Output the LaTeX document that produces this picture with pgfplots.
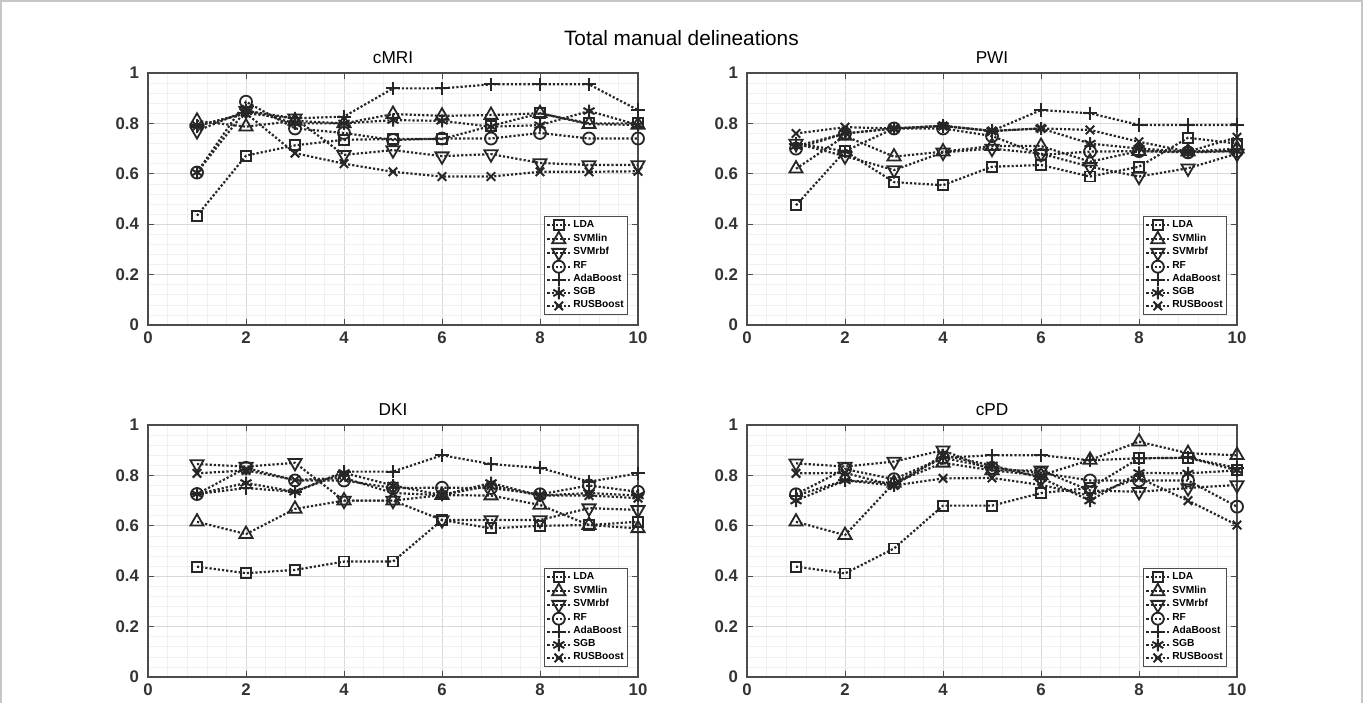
\documentclass[border=0pt]{standalone}
\usepackage{fontspec}
\setmainfont{Liberation Sans}
\usepackage{pgfplots}
\usepackage{pgfplotstable}
\pgfplotsset{compat=1.18}

\pgfplotstableread{
x LDA SVMlin SVMrbf RF Ada SGB RUS
1 0.434 0.81 0.77 0.605 0.79 0.605 0.79
2 0.672 0.787 0.85 0.886 0.84 0.853 0.84
3 0.713 0.81 0.82 0.78 0.82 0.80 0.682
4 0.735 0.80 0.675 0.762 0.827 0.80 0.64
5 0.738 0.837 0.694 0.734 0.939 0.813 0.608
6 0.738 0.83 0.67 0.74 0.939 0.81 0.589
7 0.79 0.833 0.678 0.74 0.955 0.787 0.589
8 0.84 0.84 0.643 0.762 0.955 0.793 0.608
9 0.80 0.797 0.635 0.74 0.955 0.849 0.608
10 0.80 0.794 0.635 0.74 0.853 0.794 0.61
}\tcMRI

\pgfplotstableread{
x LDA SVMlin SVMrbf RF Ada SGB RUS
1 0.475 0.62 0.72 0.70 0.72 0.71 0.76
2 0.69 0.75 0.67 0.76 0.69 0.76 0.785
3 0.567 0.668 0.615 0.78 0.78 0.78 0.78
4 0.555 0.688 0.685 0.78 0.79 0.79 0.79
5 0.628 0.71 0.70 0.75 0.77 0.77 0.77
6 0.635 0.71 0.68 0.675 0.853 0.78 0.78
7 0.589 0.648 0.628 0.688 0.84 0.72 0.774
8 0.628 0.69 0.589 0.69 0.794 0.70 0.727
9 0.743 0.688 0.622 0.685 0.794 0.688 0.688
10 0.72 0.70 0.68 0.69 0.794 0.69 0.745
}\tPWI

\pgfplotstableread{
x LDA SVMlin SVMrbf RF Ada SGB RUS
1 0.438 0.616 0.845 0.726 0.726 0.726 0.808
2 0.412 0.567 0.835 0.83 0.75 0.77 0.82
3 0.425 0.667 0.85 0.78 0.735 0.735 0.782
4 0.458 0.70 0.70 0.78 0.815 0.81 0.79
5 0.458 0.70 0.70 0.75 0.815 0.76 0.73
6 0.623 0.722 0.623 0.751 0.88 0.722 0.722
7 0.59 0.72 0.623 0.75 0.845 0.77 0.76
8 0.60 0.683 0.623 0.725 0.83 0.72 0.72
9 0.603 0.603 0.67 0.76 0.775 0.73 0.72
10 0.616 0.59 0.663 0.735 0.808 0.72 0.71
}\tDKI

\pgfplotstableread{
x LDA SVMlin SVMrbf RF Ada SGB RUS
1 0.438 0.616 0.848 0.725 0.72 0.70 0.808
2 0.411 0.563 0.835 0.825 0.78 0.78 0.81
3 0.51 0.77 0.855 0.785 0.77 0.76 0.76
4 0.68 0.85 0.90 0.87 0.87 0.88 0.788
5 0.68 0.82 0.82 0.83 0.88 0.84 0.79
6 0.73 0.80 0.82 0.81 0.88 0.79 0.762
7 0.75 0.861 0.74 0.78 0.86 0.70 0.72
8 0.868 0.934 0.735 0.78 0.868 0.81 0.79
9 0.87 0.888 0.75 0.78 0.87 0.808 0.70
10 0.82 0.88 0.762 0.676 0.83 0.82 0.603
}\tcPD

\pgfplotsset{
  base/.style={black!85, densely dotted, line width=1.1pt},
  sLDA/.style={base, mark=square, mark size=2.5pt, mark options={solid, line width=0.9pt}},
  sLin/.style={base, mark=triangle, mark size=3.8pt, mark options={solid, line width=0.9pt}},
  sRbf/.style={base, mark=triangle, mark size=3.8pt, mark options={solid, line width=0.9pt, rotate=180}},
  sRF/.style={base, mark=o, mark size=3pt, mark options={solid, line width=0.9pt}},
  sAda/.style={base, mark=+, mark size=3.3pt, mark options={solid, line width=1pt}},
  sSGB/.style={base, mark=asterisk, mark size=3.2pt, mark options={solid, line width=1pt}},
  sRUS/.style={base, mark=x, mark size=3pt, mark options={solid, line width=1pt}},
  panel/.style={
    scale only axis, width=245pt, height=126pt,
    xmin=0, xmax=10, ymin=0, ymax=1,
    xtick={0,2,4,6,8,10}, ytick={0,0.2,0.4,0.6,0.8,1},
    minor x tick num=4, minor y tick num=4,
    grid=both,
    major grid style={gray!30, line width=0.4pt},
    minor grid style={gray!12, line width=0.3pt},
    axis line style={gray!60!black, line width=0.6pt},
    tick style={gray!60!black, line width=0.5pt},
    major tick length=3pt, minor tick length=0pt,
    tick align=inside,
    /pgf/number format/assume math mode=true,
    tick label style={font=\bfseries\fontsize{8.4}{9}\selectfont, black!80},
    yticklabel style={xshift=-1pt},
    title style={font=\fontsize{8.6}{10}\selectfont, yshift=-5pt},
    legend style={at={(rel axis cs:0.98,0.04)}, anchor=south east,
      font=\bfseries\fontsize{5.1}{6}\selectfont, draw=gray!60!black,
      line width=0.5pt, inner sep=1pt, row sep=0pt,
      nodes={inner xsep=1pt, inner ysep=0.72pt}},
    legend cell align=left,
    legend image code/.code={\draw[mark repeat=2,mark phase=2] plot coordinates {(0cm,0cm)(0.2cm,0cm)(0.4cm,0cm)};},
  },
}

\newcommand{\allplots}[1]{%
  \addplot[sLDA] table[x=x,y=LDA]{#1};
  \addplot[sLin] table[x=x,y=SVMlin]{#1};
  \addplot[sRbf] table[x=x,y=SVMrbf]{#1};
  \addplot[sRF] table[x=x,y=RF]{#1};
  \addplot[sAda] table[x=x,y=Ada]{#1};
  \addplot[sSGB] table[x=x,y=SGB]{#1};
  \addplot[sRUS] table[x=x,y=RUS]{#1};
  \legend{LDA,SVMlin,SVMrbf,RF,AdaBoost,SGB,RUSBoost}
}

\begin{document}
\begin{tikzpicture}
\useasboundingbox (0,0) rectangle (681.5pt,351.5pt);
\draw[gray!45, line width=0.8pt] (0.6pt,0) -- (0.6pt,350.9pt) -- (680.9pt,350.9pt) -- (680.9pt,0);
\node[font=\fontsize{10.4}{12}\selectfont] at (340.7pt,332.5pt) {Total manual delineations};

\begin{axis}[panel, at={(74pt,189pt)}, anchor=south west, title={cMRI}]
\allplots{\tcMRI}
\end{axis}
\begin{axis}[panel, at={(373.5pt,189pt)}, anchor=south west, title={PWI}]
\allplots{\tPWI}
\end{axis}
\begin{axis}[panel, at={(74pt,13pt)}, anchor=south west, title={DKI}]
\allplots{\tDKI}
\end{axis}
\begin{axis}[panel, at={(373.5pt,13pt)}, anchor=south west, title={cPD}]
\allplots{\tcPD}
\end{axis}
\end{tikzpicture}
\end{document}
